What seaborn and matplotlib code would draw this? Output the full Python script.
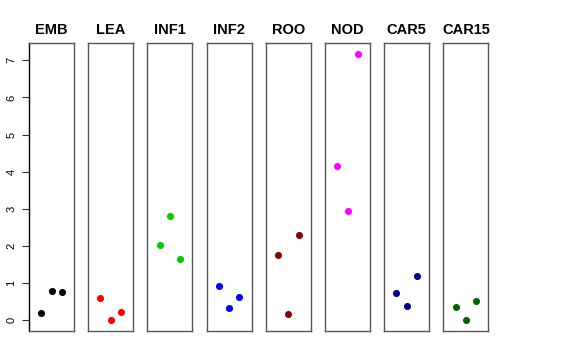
import matplotlib
matplotlib.use("Agg")
import matplotlib.pyplot as plt
import seaborn as sns
import pandas as pd

sns.set_style("white")
plt.rcParams['font.family'] = ['Liberation Sans', 'DejaVu Sans']
plt.rcParams['text.color'] = 'black'
plt.rcParams['ytick.color'] = 'black'

tissues = ["EMB", "LEA", "INF1", "INF2", "ROO", "NOD", "CAR5", "CAR15"]
colors = ["#000000", "#FF0000", "#00CD00", "#0000FF", "#8B0000", "#FF00FF", "#00008B", "#006400"]
rep_pos = [1, 2, 3]
values = {
    "EMB":   [0.19, 0.80, 0.76],
    "LEA":   [0.61, 0.00, 0.23],
    "INF1":  [2.02, 2.80, 1.64],
    "INF2":  [0.92, 0.32, 0.63],
    "ROO":   [1.77, 0.17, 2.29],
    "NOD":   [4.16, 2.95, 7.17],
    "CAR5":  [0.73, 0.39, 1.19],
    "CAR15": [0.35, 0.00, 0.52],
}

fig = plt.figure(figsize=(5.76, 3.6), dpi=100)
W, H = 576, 360
left0, step, pw = 29, 59.2, 45
bottom_px, top_px = 331, 43.3
ymin, ymax = -0.287, 7.457

for i, (t, c) in enumerate(zip(tissues, colors)):
    ax = fig.add_axes([(left0 + i * step) / W, (H - bottom_px) / H, pw / W, (bottom_px - top_px) / H])
    df = pd.DataFrame({"x": rep_pos, "y": values[t]})
    sns.scatterplot(data=df, x="x", y="y", ax=ax, color=c, s=26, edgecolor=c, linewidth=0)
    ax.set_xlim(-0.17, 4.17)
    ax.set_ylim(ymin, ymax)
    ax.set_xticks([])
    ax.set_xlabel("")
    ax.set_ylabel("")
    for sp in ax.spines.values():
        sp.set_visible(True)
        sp.set_color("#555555")
        sp.set_linewidth(1.0)
    ax.set_title(t, fontsize=10.5, fontweight="bold", pad=7, color="black")
    if i == 0:
        ax.set_yticks(range(0, 8))
        ax.set_yticklabels([str(v) for v in range(0, 8)], rotation=90, va="center", fontsize=8, color="black")
        ax.tick_params(axis="y", left=True, length=5, width=0.8, color="#333333", pad=4)
        ax.spines["left"].set_color("#000000")
    else:
        ax.set_yticks([])

fig.savefig("out.png", dpi=100)
